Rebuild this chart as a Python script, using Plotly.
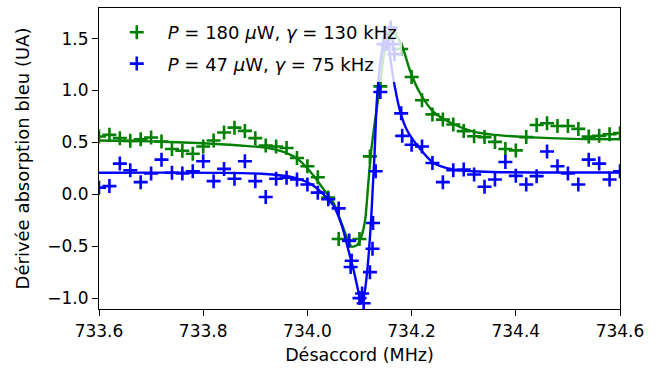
import plotly.graph_objects as go

# ---- data ----
green_x = [733.60, 733.62, 733.64, 733.66, 733.68, 733.70, 733.72, 733.74, 733.76, 733.78,
           733.80, 733.82, 733.84, 733.86, 733.88, 733.90, 733.92, 733.94, 733.96, 733.98,
           734.00, 734.02, 734.04, 734.06, 734.08, 734.10, 734.12, 734.14, 734.16, 734.18,
           734.20, 734.22, 734.24, 734.26, 734.28, 734.30, 734.32, 734.34, 734.36, 734.38,
           734.40, 734.42, 734.44, 734.46, 734.48, 734.50, 734.52, 734.54, 734.56, 734.58,
           734.60]
green_y = [0.557, 0.573, 0.541, 0.515, 0.531, 0.547, 0.509, 0.436, 0.420, 0.391,
           0.461, 0.518, 0.595, 0.642, 0.611, 0.541, 0.470, 0.461, 0.446, 0.350,
           0.270, 0.165, -0.031, -0.430, -0.450, -0.430, 0.365, 1.040, 1.550, 1.400,
           1.130, 0.906, 0.770, 0.720, 0.672, 0.609, 0.560, 0.551, 0.505, 0.436,
           0.423, 0.551, 0.668, 0.684, 0.658, 0.658, 0.630, 0.556, 0.563, 0.579,
           0.589]

blue_x = [733.60, 733.62, 733.64, 733.66, 733.68, 733.70, 733.72, 733.74, 733.76, 733.78,
          733.80, 733.82, 733.84, 733.86, 733.88, 733.90, 733.92, 733.94, 733.96, 733.98,
          734.00, 734.02, 734.04, 734.06, 734.08, 734.083, 734.085, 734.10, 734.105, 734.108,
          734.12, 734.125, 734.126, 734.131, 734.14, 734.146, 734.152, 734.16, 734.164, 734.167,
          734.18, 734.182, 734.20, 734.22, 734.24, 734.26, 734.28, 734.30, 734.32, 734.34,
          734.36, 734.38, 734.40, 734.42, 734.44, 734.46, 734.48, 734.50, 734.52, 734.54,
          734.56, 734.58, 734.60]
blue_y = [0.064, 0.079, 0.296, 0.232, 0.117, 0.200, 0.334, 0.207, 0.200, 0.222,
          0.318, 0.127, 0.245, 0.150, 0.318, 0.127, -0.026, 0.150, 0.159, 0.143,
          0.095, 0.016, -0.048, -0.136, -0.446, -0.700, -0.640, -1.000, -0.955, -1.050,
          -0.750, -0.525, -0.277, 0.222, 0.986, 1.447, 1.447, 1.606, 1.447, 1.350,
          0.780, 0.563, 0.477, 0.461, 0.302, 0.117, 0.232, 0.239, 0.191, 0.073,
          0.143, 0.312, 0.178, 0.095, 0.175, 0.413, 0.270, 0.200, 0.095, 0.334,
          0.296, 0.143, 0.222]

# fitted curves
green_fit_x = [733.600, 733.700, 733.800, 733.871, 733.919, 733.957, 733.983, 734.002,
               734.015, 734.031, 734.050, 734.066, 734.078, 734.085, 734.095, 734.104,
               734.111, 734.116, 734.122, 734.130, 734.139, 734.147, 734.159, 734.168,
               734.181, 734.197, 734.215, 734.242, 734.280, 734.318, 734.359, 734.421,
               734.510, 734.600]
green_fit_y = [0.518, 0.510, 0.492, 0.470, 0.450, 0.404, 0.334, 0.239,
               0.159, 0.048, -0.080, -0.286, -0.446, -0.505, -0.490, -0.400,
               -0.240, 0.050, 0.400, 0.716, 1.030, 1.350, 1.565, 1.540,
               1.440, 1.190, 0.986, 0.795, 0.677, 0.604, 0.573, 0.551,
               0.534, 0.531]

blue_fit_x = [733.600, 733.912, 733.976, 734.008, 734.031, 734.050, 734.066, 734.078,
              734.088, 734.098, 734.103, 734.109, 734.114, 734.118, 734.122, 734.125,
              734.129, 734.133, 734.138, 734.145, 734.150, 734.155, 734.159, 734.168,
              734.179, 734.191, 734.210, 734.242, 734.280, 734.318, 734.370, 734.600]
blue_fit_y = [0.207, 0.198, 0.159, 0.095, 0.000, -0.110, -0.300, -0.525,
              -0.716, -0.940, -1.050, -0.970, -0.780, -0.556, -0.270, 0.016,
              0.400, 0.875, 1.190, 1.447, 1.580, 1.500, 1.320, 1.030,
              0.780, 0.620, 0.477, 0.302, 0.239, 0.222, 0.213, 0.210]

x_ticks = [733.6, 733.8, 734.0, 734.2, 734.4, 734.6]
y_ticks = [-1.0, -0.5, 0.0, 0.5, 1.0, 1.5]

label_green = "<i>P</i> = 180 <i>μ</i>W, <i>γ</i> = 130 kHz"
label_blue = "<i>P</i> = 47 <i>μ</i>W, <i>γ</i> = 75 kHz"

GREEN = "#008000"
BLUE = "#0000ff"
FONT = "DejaVu Sans"

fig = go.Figure()
fig.add_trace(go.Scatter(x=green_x, y=green_y, mode="markers", name=label_green,
                         legendgroup="g",
                         marker=dict(symbol="cross-thin", size=10, color=GREEN,
                                     line=dict(color=GREEN, width=2.6))))
fig.add_trace(go.Scatter(x=green_fit_x, y=green_fit_y, mode="lines", showlegend=False,
                         legendgroup="g",
                         line=dict(color=GREEN, width=2.4, shape="spline", smoothing=0.7)))
fig.add_trace(go.Scatter(x=blue_x, y=blue_y, mode="markers", name=label_blue,
                         legendgroup="b",
                         marker=dict(symbol="cross-thin", size=10, color=BLUE,
                                     line=dict(color=BLUE, width=2.6))))
fig.add_trace(go.Scatter(x=blue_fit_x, y=blue_fit_y, mode="lines", showlegend=False,
                         legendgroup="b",
                         line=dict(color=BLUE, width=2.4, shape="spline", smoothing=0.7)))

axis_common = dict(showgrid=False, zeroline=False, showline=True, linecolor="black",
                   linewidth=1.2, mirror=True, ticks="outside", ticklen=6, tickwidth=1.2,
                   tickcolor="black", tickfont=dict(family=FONT, size=17, color="black"))

fig.update_layout(
    width=668, height=369,
    margin=dict(l=99, r=48, t=7, b=58),
    paper_bgcolor="white", plot_bgcolor="white",
    font=dict(family=FONT, size=17, color="black"),
    xaxis=dict(range=[733.6, 734.6], tickvals=x_ticks,
               ticktext=[f"{v:.1f}" for v in x_ticks],
               title=dict(text="Désaccord (MHz)", font=dict(family=FONT, size=17.5), standoff=9),
               **axis_common),
    yaxis=dict(range=[-1.105, 1.795], tickvals=y_ticks,
               ticktext=[f"{v:.1f}".replace("-", "−") for v in y_ticks],
               title=dict(text="Dérivée absorption bleu (UA)", font=dict(family=FONT, size=18), standoff=12),
               **axis_common),
    legend=dict(x=0.013, y=0.98, xanchor="left", yanchor="top",
                bgcolor="rgba(255,255,255,0.8)", borderwidth=0,
                font=dict(family=FONT, size=18), tracegroupgap=5,
                itemwidth=52),
    showlegend=True,
)

fig.write_html("out.html")
